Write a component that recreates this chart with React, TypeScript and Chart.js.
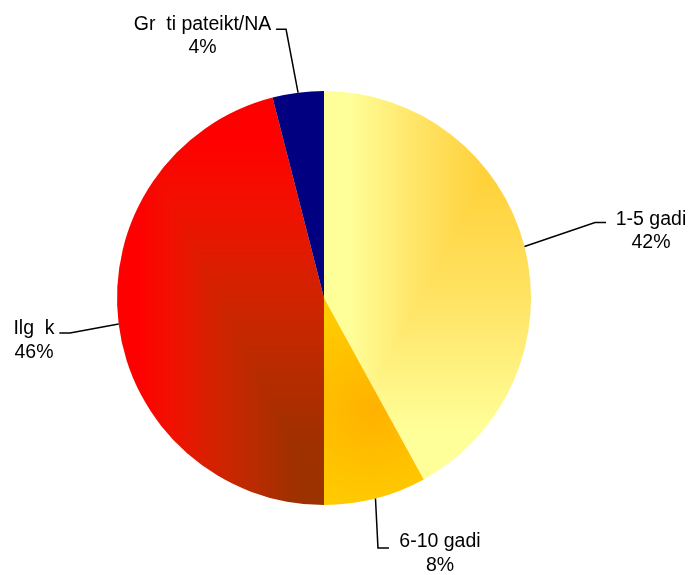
import React, { useEffect, useRef } from "react";
import { Chart, registerables } from "chart.js";

Chart.register(...registerables);

const categories = ["1-5 gadi", "6-10 gadi", "Ilg  k", "Gr  ti pateikt/NA"];
const values = [42, 8, 46, 4];

const W = 692;
const H = 575;
const CX = 324;
const CY = 298;
const R = 207;
const FONT_SIZE = 19.5;
const LINE_GAP = 23.5;

// leader-line layout offsets relative to each slice's mid-arc anchor
const labelLayout = [
  { elbow: [70.5, -24], end: [81.5, -24], text: [126.5, -29] },
  { elbow: [2.5, 49.5], end: [13.5, 49.5], text: [64.5, 42] },
  { elbow: [-48.6, 9], end: [-59.3, 9], text: [-84.6, 3.5] },
  { elbow: [-12, -63.3], end: [-22, -63.3], text: [-95.5, -70] },
];

type RGB = [number, number, number];
const hex = (h: string): RGB => [
  parseInt(h.slice(1, 3), 16),
  parseInt(h.slice(3, 5), 16),
  parseInt(h.slice(5, 7), 16),
];
const lerp = (a: RGB, b: RGB, t: number): RGB => {
  const u = Math.max(0, Math.min(1, t));
  return [a[0] + (b[0] - a[0]) * u, a[1] + (b[1] - a[1]) * u, a[2] + (b[2] - a[2]) * u];
};
const stops = (list: [number, RGB][], t: number): RGB => {
  if (t <= list[0][0]) return list[0][1];
  for (let i = 1; i < list.length; i++) {
    if (t <= list[i][0]) {
      const [t0, c0] = list[i - 1];
      const [t1, c1] = list[i];
      return lerp(c0, c1, (t - t0) / (t1 - t0));
    }
  }
  return list[list.length - 1][1];
};

function makePattern(ctx: CanvasRenderingContext2D, fn: (x: number, y: number) => RGB) {
  const c = document.createElement("canvas");
  c.width = W;
  c.height = H;
  const g = c.getContext("2d")!;
  const img = g.createImageData(W, H);
  const d = img.data;
  for (let y = 0; y < H; y++) {
    for (let x = 0; x < W; x++) {
      const [r, gg, b] = fn(x + 0.5, y + 0.5);
      const i = (y * W + x) * 4;
      d[i] = r;
      d[i + 1] = gg;
      d[i + 2] = b;
      d[i + 3] = 255;
    }
  }
  g.putImageData(img, 0, 0);
  return ctx.createPattern(c, "no-repeat")!;
}

const labelPlugin = {
  id: "leaderLabels",
  afterDatasetsDraw(chart: any) {
    const ctx: CanvasRenderingContext2D = chart.ctx;
    const meta = chart.getDatasetMeta(0);
    const data: number[] = chart.data.datasets[0].data;
    const total = data.reduce((a, b) => a + b, 0);
    ctx.save();
    ctx.strokeStyle = "#000";
    ctx.lineWidth = 1.5;
    ctx.fillStyle = "#000";
    ctx.font = `${FONT_SIZE}px "Liberation Sans", Arial, sans-serif`;
    ctx.textAlign = "center";
    ctx.textBaseline = "alphabetic";
    meta.data.forEach((arc: any, i: number) => {
      const p = arc.getProps(["x", "y", "startAngle", "endAngle", "outerRadius"], true);
      const mid = (p.startAngle + p.endAngle) / 2;
      const ax = p.x + Math.cos(mid) * p.outerRadius;
      const ay = p.y + Math.sin(mid) * p.outerRadius;
      const L = labelLayout[i];
      ctx.beginPath();
      ctx.moveTo(ax, ay);
      ctx.lineTo(ax + L.elbow[0], ay + L.elbow[1]);
      ctx.lineTo(ax + L.end[0], ay + L.end[1]);
      ctx.stroke();
      const tx = ax + L.text[0];
      const ty = ay + L.text[1] + FONT_SIZE * 0.358;
      ctx.fillText(chart.data.labels[i], tx, ty);
      ctx.fillText(Math.round((data[i] / total) * 100) + "%", tx, ty + LINE_GAP);
    });
    ctx.restore();
  },
};

export default function App() {
  const ref = useRef<HTMLCanvasElement>(null);
  useEffect(() => {
    const canvas = ref.current!;
    const ctx = canvas.getContext("2d")!;

    // "from corner" rectangular gradients
    const bottomY1 = CY - R * Math.cos((values[0] / 100) * 2 * Math.PI);
    const s1: [number, RGB][] = [
      [0.24, hex("#FFD23C")],
      [0.55, hex("#FFE466")],
      [0.88, hex("#FFFF99")],
    ];
    const p1 = makePattern(ctx, (x, y) => {
      const nx = Math.max(0, (CX + R - x) / R);
      const ny = Math.max(0, (y - (CY - R)) / (bottomY1 - (CY - R)));
      return stops(s1, Math.max(nx, ny));
    });
    const orangeDark: RGB = hex("#FFB200");
    const orangeLight: RGB = hex("#FFCB00");
    const p2 = makePattern(ctx, (x, y) => {
      const dx = x - (CX + 48);
      const dy = y - (CY + 112);
      const t = Math.sqrt(dx * dx + dy * dy) / 100;
      return lerp(orangeDark, orangeLight, t);
    });
    const topY3 = CY - R * Math.cos(((100 - values[3]) / 100) * 2 * Math.PI);
    const s3: [number, RGB][] = [
      [0, hex("#993300")],
      [0.16, hex("#A03000")],
      [0.4, hex("#C22900")],
      [0.55, hex("#D62000")],
      [0.74, hex("#F21000")],
      [0.9, hex("#FF0000")],
    ];
    const p3 = makePattern(ctx, (x, y) => {
      const nx = Math.max(0, (CX - x) / R);
      const ny = Math.max(0, (CY + R - y) / (CY + R - topY3));
      return stops(s3, Math.max(nx, ny));
    });
    const p4 = "#000080";

    const chart = new Chart(ctx, {
      type: "pie",
      data: {
        labels: categories,
        datasets: [
          {
            data: values,
            backgroundColor: [p1, p2, p3, p4],
            borderWidth: 0,
            hoverOffset: 0,
          },
        ],
      },
      options: {
        responsive: false,
        animation: false,
        events: [],
        layout: {
          padding: { left: CX - R, top: CY - R, right: W - CX - R, bottom: H - CY - R },
        },
        plugins: {
          legend: { display: false },
          tooltip: { enabled: false },
        },
      },
      plugins: [labelPlugin],
    });
    return () => chart.destroy();
  }, []);

  return (
    <div style={{ position: "absolute", left: 0, top: 0, width: W, height: H, background: "#fff" }}>
      <canvas ref={ref} width={W} height={H} style={{ display: "block" }} />
    </div>
  );
}
